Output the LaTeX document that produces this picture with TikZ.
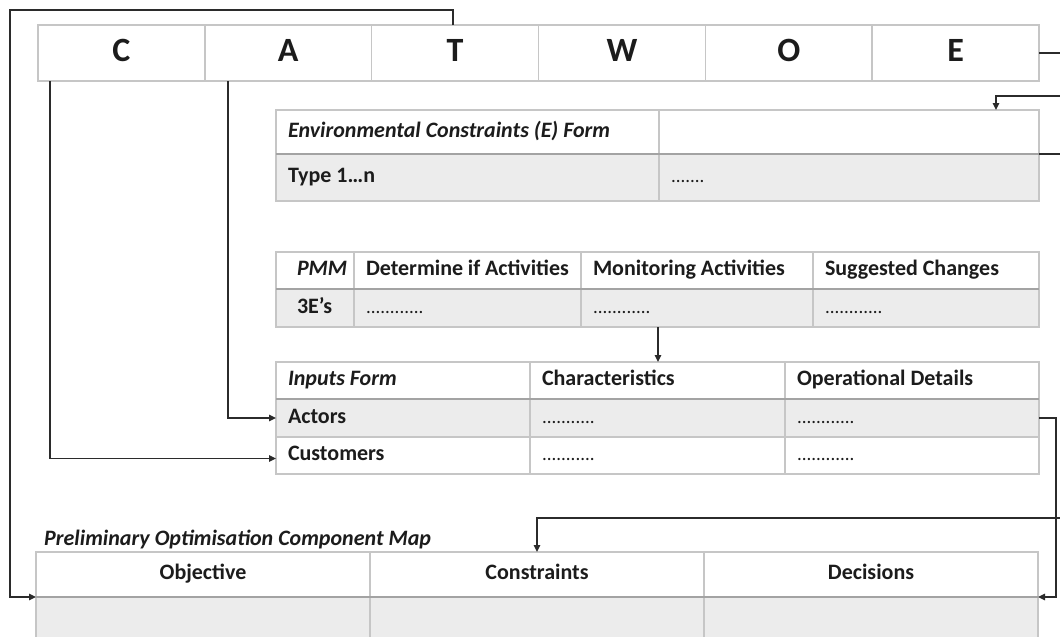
\documentclass[tikz,border=0pt]{standalone}
\usepackage{fontspec}
\setmainfont{Carlito}
\usetikzlibrary{arrows.meta}

\definecolor{gridline}{HTML}{C6C6C6}
\definecolor{headline}{HTML}{A3A3A3}
\definecolor{rowfill}{HTML}{ECECEC}
\definecolor{ink}{HTML}{1C1C1C}
\definecolor{wire}{HTML}{2B2B2B}

\newcommand\tabfont{\fontsize{22}{26}\selectfont\bfseries}
\newcommand\tabitfont{\fontsize{22}{26}\selectfont\bfseries\itshape}
\newcommand\letterfont{\fontsize{34}{40}\selectfont\bfseries}
\newcommand\dotrun[1]{{\fontsize{19}{25}\selectfont\mdseries #1}}

\tikzset{
  cellbox/.style={draw=gridline, line width=1.6pt, inner ysep=0pt, outer sep=0pt,
    anchor=north west, text=ink, font=\tabfont},
  sepline/.style={draw=headline, line width=2.4pt},
  conn/.style={draw=wire, line width=1.4pt},
  tip/.style={-{Triangle[length=7pt,width=6.5pt]}},
}

% left-aligned table cell: [style] name, x, y, width, height, fill, text
\newcommand\lcell[8][]{%
  \pgfmathsetmacro\cellinner{#5-24}%
  \node[cellbox, #1, fill=#7, minimum width=#5pt, minimum height=#6pt, inner xsep=12pt]
    (#2) at (#3,#4) {\hbox to \cellinner pt{\strut #8\hfil}};}
% centred table cell
\newcommand\ccell[8][]{%
  \node[cellbox, #1, fill=#7, minimum width=#5pt, minimum height=#6pt, inner xsep=0pt]
    (#2) at (#3,#4) {\strut #8};}

\begin{document}
\begin{tikzpicture}[x=1pt,y=-1pt]
\clip (0,0) rectangle (1060,637);
\fill[white] (0,0) rectangle (1060,637);

% CATWOE strip
\ccell[font=\letterfont]{cC}{38}{25}{166.83}{56}{white}{C}
\ccell[font=\letterfont]{cA}{204.83}{25}{166.83}{56}{white}{A}
\ccell[font=\letterfont]{cT}{371.67}{25}{166.83}{56}{white}{T}
\ccell[font=\letterfont]{cW}{538.5}{25}{166.83}{56}{white}{W}
\ccell[font=\letterfont]{cO}{705.33}{25}{166.83}{56}{white}{O}
\ccell[font=\letterfont]{cE}{872.17}{25}{166.83}{56}{white}{E}

% Environmental constraints form
\lcell[font=\tabitfont]{eHl}{276}{110}{383}{44}{white}{Environmental Constraints (E) Form}
\lcell{eHv}{659}{110}{380}{44}{white}{}
\lcell{eRl}{276}{154}{383}{47}{rowfill}{Type 1…n}
\lcell{eRv}{659}{154}{380}{47}{rowfill}{\dotrun{.......}}
\draw[sepline] (eHl.south west) -- (eHv.south east);

% PMM table
\lcell[font=\tabitfont]{pHa}{276}{252}{78}{37}{white}{\hspace*{9pt}PMM}
\lcell{pHb}{354}{252}{227}{37}{white}{Determine if Activities}
\lcell{pHc}{581}{252}{232}{37}{white}{Monitoring Activities}
\lcell{pHd}{813}{252}{226}{37}{white}{Suggested Changes}
\lcell{pRa}{276}{289}{78}{38}{rowfill}{\hspace*{9pt}3E’s}
\lcell{pRb}{354}{289}{227}{38}{rowfill}{\dotrun{............}}
\lcell{pRc}{581}{289}{232}{38}{rowfill}{\dotrun{............}}
\lcell{pRd}{813}{289}{226}{38}{rowfill}{\dotrun{............}}
\draw[sepline] (pHa.south west) -- (pHd.south east);

% Inputs form
\lcell[font=\tabitfont]{iHa}{276}{362}{254}{37}{white}{Inputs Form}
\lcell{iHb}{530}{362}{255}{37}{white}{Characteristics}
\lcell{iHc}{785}{362}{254}{37}{white}{Operational Details}
\lcell{iAa}{276}{399}{254}{38}{rowfill}{Actors}
\lcell{iAb}{530}{399}{255}{38}{rowfill}{\dotrun{...........}}
\lcell{iAc}{785}{399}{254}{38}{rowfill}{\dotrun{............}}
\lcell{iCa}{276}{437}{254}{37}{white}{Customers}
\lcell{iCb}{530}{437}{255}{37}{white}{\dotrun{...........}}
\lcell{iCc}{785}{437}{254}{37}{white}{\dotrun{............}}
\draw[sepline] (iHa.south west) -- (iHc.south east);

% Preliminary optimisation component map
\node[font=\tabitfont, text=ink, anchor=west, inner sep=0pt] (mapTitle) at (44,539)
  {Preliminary Optimisation Component Map};
\ccell{mO}{36}{552}{334}{45}{white}{Objective}
\ccell{mC}{370}{552}{334}{45}{white}{Constraints}
\ccell{mD}{704}{552}{334}{45}{white}{Decisions}
\ccell{mO2}{36}{597}{334}{45}{rowfill}{}
\ccell{mC2}{370}{597}{334}{45}{rowfill}{}
\ccell{mD2}{704}{597}{334}{45}{rowfill}{}
\draw[sepline] (mO.south west) -- (mD.south east);

% connectors
\coordinate (loopTop) at (10,10);
\draw[conn,tip] ([xshift=-2pt]cT.north) |- (loopTop) |- (mO2.north west);

\coordinate (cDrop) at ([xshift=12pt]cC.south west);
\draw[conn,tip] (cDrop) |- ([yshift=-3pt]iCa.west);

\coordinate (aDrop) at ([xshift=23pt]cA.south west);
\draw[conn,tip] (aDrop) |- (iAa.west);

\coordinate (eOut) at (1060,53);
\draw[conn] (cE.east) -- (eOut);

\coordinate (eIn) at (1060,96);
\coordinate (eDrop) at ([xshift=-43pt]eHv.north east);
\draw[conn,tip] (eIn) -| (eDrop);

\coordinate (eOut2) at (1060,154);
\draw[conn] (eHv.south east) -- (eOut2);

\coordinate (mDrop) at ([xshift=77pt]pRc.south west);
\draw[conn,tip] (mDrop) -- (mDrop |- iHb.north);

\draw[conn,tip] (iAc.east) -- ++(17,0) |- (mD2.north east);

\coordinate (kIn) at (1060,518);
\draw[conn,tip] (kIn) -| (mC.north);
\end{tikzpicture}
\end{document}
